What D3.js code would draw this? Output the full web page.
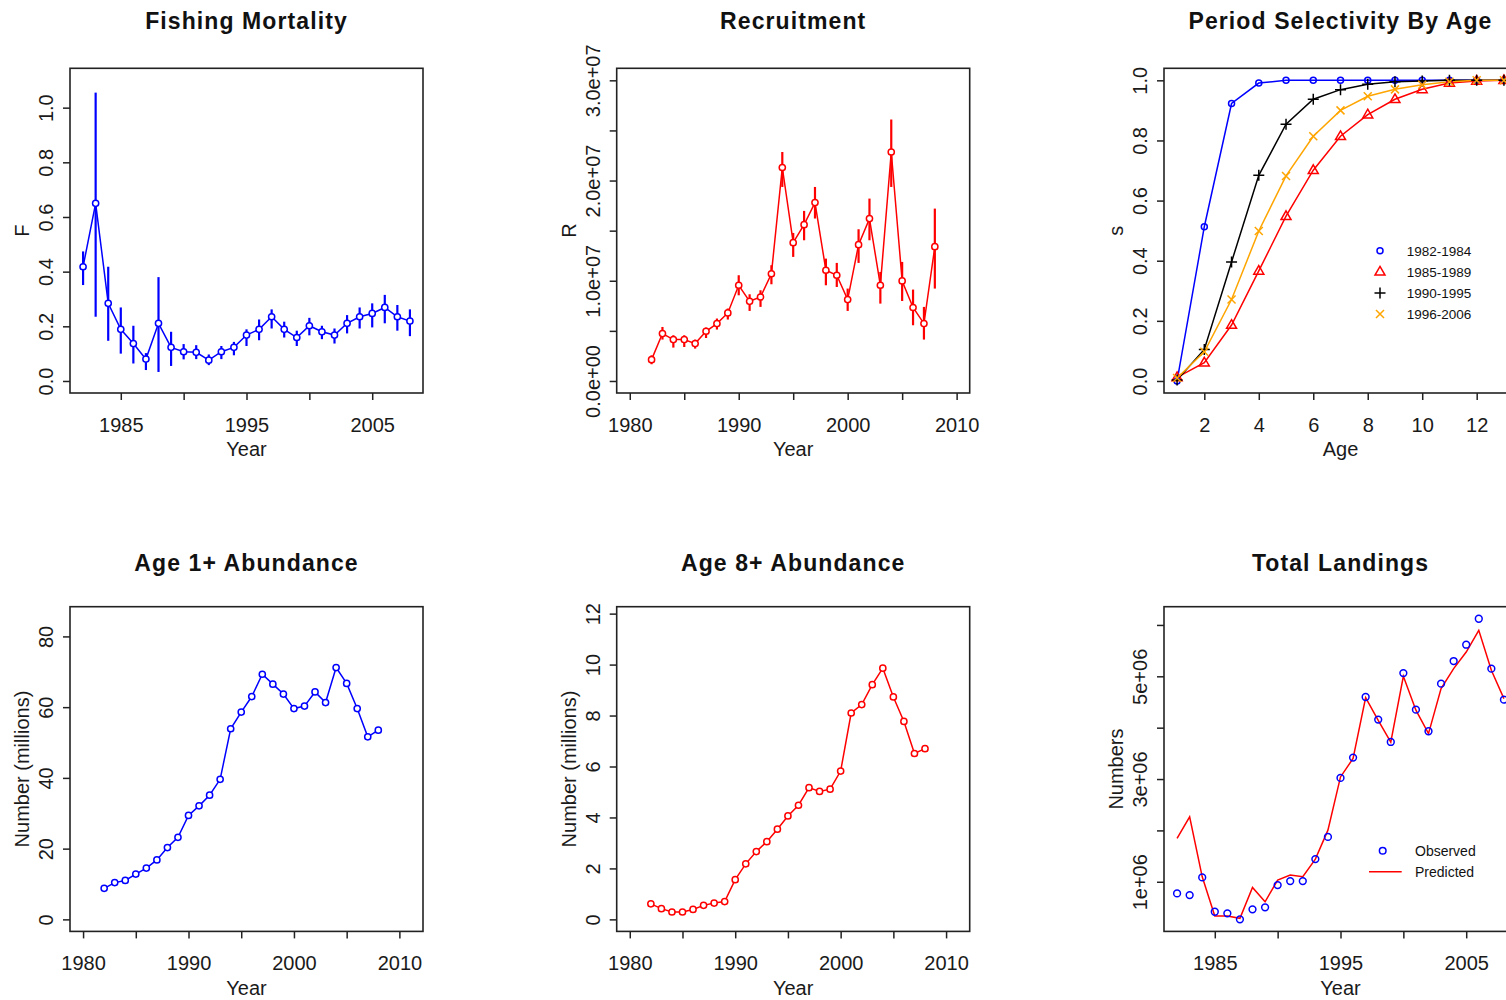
<!DOCTYPE html>
<html>
<head>
<meta charset="utf-8">
<script src="https://cdn.jsdelivr.net/npm/d3@7"></script>
<style>
  html, body { margin: 0; padding: 0; background: #fff; overflow: hidden; }
  svg { display: block; }
  text { font-family: "Liberation Sans", Arial, sans-serif; fill: #1a1a1a; }
</style>
</head>
<body>
<script>
// ---- Data ----
const years = [1982, 1983, 1984, 1985, 1986, 1987, 1988, 1989, 1990, 1991, 1992, 1993, 1994,
               1995, 1996, 1997, 1998, 1999, 2000, 2001, 2002, 2003, 2004, 2005, 2006, 2007, 2008];

// Fishing mortality with interval bounds
const fMort = [0.418, 0.650, 0.284, 0.189, 0.137, 0.080, 0.211, 0.123, 0.107, 0.105, 0.076, 0.107, 0.123,
               0.168, 0.189, 0.235, 0.189, 0.159, 0.202, 0.180, 0.168, 0.211, 0.235, 0.247, 0.269, 0.235, 0.219];
const fLow  = [0.351, 0.235, 0.147, 0.100, 0.064, 0.040, 0.033, 0.055, 0.079, 0.080, 0.058, 0.080, 0.094,
               0.128, 0.149, 0.192, 0.159, 0.128, 0.167, 0.153, 0.137, 0.174, 0.192, 0.196, 0.211, 0.184, 0.164];
const fHigh = [0.474, 1.055, 0.418, 0.269, 0.202, 0.102, 0.380, 0.180, 0.135, 0.131, 0.097, 0.128, 0.143,
               0.189, 0.225, 0.262, 0.217, 0.184, 0.231, 0.202, 0.192, 0.241, 0.269, 0.284, 0.315, 0.278, 0.262];

// Recruitment (numbers) with interval bounds
const recruit     = [2.13e6, 4.73e6, 4.13e6, 4.13e6, 3.73e6, 4.96e6, 5.73e6, 6.79e6, 9.55e6, 7.95e6, 8.38e6, 10.7e6, 21.3e6,
                     13.8e6, 15.6e6, 17.8e6, 11.05e6, 10.55e6, 8.12e6, 13.6e6, 16.2e6, 9.55e6, 22.85e6, 9.98e6, 7.33e6, 5.73e6, 13.4e6];
const recruitLow  = [1.67e6, 4.13e6, 3.33e6, 3.39e6, 3.23e6, 4.29e6, 5.13e6, 6.13e6, 8.55e6, 6.99e6, 7.39e6, 9.65e6, 19.36e6,
                     12.38e6, 14.04e6, 16.21e6, 9.55e6, 9.38e6, 6.99e6, 11.78e6, 14.04e6, 7.72e6, 19.36e6, 7.98e6, 5.56e6, 4.13e6, 9.22e6];
const recruitHigh = [2.56e6, 5.39e6, 4.56e6, 4.56e6, 4.13e6, 5.33e6, 6.23e6, 7.23e6, 10.55e6, 8.65e6, 9.05e6, 11.55e6, 22.85e6,
                     14.77e6, 16.97e6, 19.36e6, 12.21e6, 11.78e6, 9.22e6, 15.14e6, 18.2e6, 10.88e6, 26.09e6, 11.88e6, 9.12e6, 7.39e6, 17.2e6];

// Selectivity by age for each period
const ages = [1, 2, 3, 4, 5, 6, 7, 8, 9, 10, 11, 12, 13];
const periods = ["1982-1984", "1985-1989", "1990-1995", "1996-2006"];
const sel8284 = [0.000, 0.513, 0.923, 0.991, 1.000, 1.000, 1.000, 1.000, 1.000, 1.000, 1.000, 1.000, 1.000];
const sel8589 = [0.012, 0.061, 0.186, 0.366, 0.548, 0.701, 0.814, 0.886, 0.937, 0.970, 0.991, 0.998, 1.000];
const sel9095 = [0.003, 0.105, 0.396, 0.684, 0.854, 0.937, 0.969, 0.987, 0.995, 0.998, 1.000, 1.000, 1.000];
const sel9606 = [0.010, 0.097, 0.271, 0.499, 0.682, 0.814, 0.900, 0.947, 0.970, 0.985, 0.995, 1.000, 1.000];

// Abundance (millions)
const abund1 = [8.77, 10.4, 11.0, 12.8, 14.5, 16.8, 20.3, 23.2, 29.4, 32.1, 35.1, 39.6, 53.9,
                58.6, 63.0, 69.3, 66.5, 63.7, 59.6, 60.3, 64.3, 61.3, 71.2, 66.7, 59.6, 51.6, 53.5];
const abund8 = [0.61, 0.42, 0.29, 0.29, 0.39, 0.55, 0.64, 0.70, 1.56, 2.18, 2.66, 3.05, 3.54,
                4.06, 4.48, 5.17, 5.02, 5.11, 5.82, 8.10, 8.43, 9.21, 9.86, 8.73, 7.77, 6.51, 6.70];

// Total landings (numbers)
const landObs  = [0.774e6, 0.741e6, 1.085e6, 0.416e6, 0.385e6, 0.268e6, 0.463e6, 0.502e6, 0.935e6, 1.013e6, 1.013e6, 1.441e6, 1.874e6,
                  3.022e6, 3.418e6, 4.597e6, 4.157e6, 3.722e6, 5.063e6, 4.351e6, 3.930e6, 4.857e6, 5.297e6, 5.615e6, 6.121e6, 5.149e6, 4.546e6];
const landPred = [1.843e6, 2.263e6, 1.097e6, 0.332e6, 0.332e6, 0.288e6, 0.890e6, 0.610e6, 1.032e6, 1.130e6, 1.097e6, 1.440e6, 2.005e6,
                  3.041e6, 3.400e6, 4.585e6, 4.140e6, 3.720e6, 4.999e6, 4.340e6, 3.885e6, 4.760e6, 5.149e6, 5.472e6, 5.894e6, 5.116e6, 4.565e6];

// Axis ticks and which of them carry a label
const yearTicks5      = [1985, 1990, 1995, 2000, 2005];
const yearLabels5     = [1985, 1995, 2005];
const yearTicksWide   = [1980, 1985, 1990, 1995, 2000, 2005, 2010];
const yearLabelsWide  = [1980, 1990, 2000, 2010];
const unitTicks       = [0, 0.2, 0.4, 0.6, 0.8, 1.0];
const recruitTicks    = [0, 5e6, 1e7, 1.5e7, 2e7, 2.5e7, 3e7];
const recruitLabels   = [0, 1e7, 2e7, 3e7];
const ageTicks        = [2, 4, 6, 8, 10, 12];
const abund1Ticks     = [0, 20, 40, 60, 80];
const abund8Ticks     = [0, 2, 4, 6, 8, 10, 12];
const landTicks       = [1e6, 2e6, 3e6, 4e6, 5e6, 6e6];
const landLabels      = [1e6, 3e6, 5e6];

// ---- Layout ----
const W = 1506, H = 1000;
const COLS = [70, 616.7, 1164];
const ROWS = [68.3, 606.7];
const PW = 353, PH = 324.7;
const BLUE = "#0000ff", RED = "#ff0000", ORANGE = "#ffa500", BLACK = "#000000";

const svg = d3.select("body").append("svg").attr("width", W).attr("height", H);

function padded(lo, hi) { const p = (hi - lo) * 0.04; return [lo - p, hi + p]; }

function sci(d, digits) {
  if (d === 0) return (0).toFixed(digits) + "e+00";
  const e = Math.floor(Math.log10(Math.abs(d)));
  const m = d / Math.pow(10, e);
  return m.toFixed(digits) + "e" + (e < 0 ? "-" : "+") + String(Math.abs(e)).padStart(2, "0");
}

function panel(o) {
  const g = svg.append("g").attr("transform", `translate(${o.left},${o.top})`);
  const x = d3.scaleLinear().domain(padded(o.xlim[0], o.xlim[1])).range([0, PW]);
  const y = d3.scaleLinear().domain(padded(o.ylim[0], o.ylim[1])).range([PH, 0]);

  const xa = g.append("g").attr("transform", `translate(0,${PH})`)
    .call(d3.axisBottom(x).tickValues(o.xTicks).tickSize(7)
      .tickFormat(d => o.xLabels.includes(d) ? o.xFmt(d) : ""));
  xa.attr("font-size", null).attr("font-family", null);
  xa.select(".domain").remove();
  xa.selectAll("line").attr("stroke", "#222").attr("stroke-width", 1.5);
  xa.selectAll("text").attr("y", 39).attr("dy", null)
    .style("font-size", "20px").style("fill", "#1a1a1a");

  const ya = g.append("g")
    .call(d3.axisLeft(y).tickValues(o.yTicks).tickSize(7)
      .tickFormat(d => o.yLabels.includes(d) ? o.yFmt(d) : ""));
  ya.attr("font-size", null).attr("font-family", null);
  ya.select(".domain").remove();
  ya.selectAll("line").attr("stroke", "#222").attr("stroke-width", 1.5);
  ya.selectAll("text").attr("x", null).attr("dy", null)
    .attr("transform", "translate(-17,0) rotate(-90)")
    .attr("text-anchor", "middle")
    .style("font-size", "20px").style("fill", "#1a1a1a");

  g.append("rect").attr("width", PW).attr("height", PH)
    .attr("fill", "none").attr("stroke", "#222").attr("stroke-width", 1.6);

  g.append("text").attr("x", PW / 2).attr("y", o.titleY).attr("text-anchor", "middle")
    .style("font-size", "23px").style("font-weight", "bold").style("letter-spacing", "1.1px")
    .style("fill", "#111").text(o.title);
  g.append("text").attr("x", PW / 2).attr("y", PH + 63.5).attr("text-anchor", "middle")
    .style("font-size", "20px").text(o.xTitle);
  g.append("text").attr("transform", `translate(-41,${PH / 2}) rotate(-90)`).attr("text-anchor", "middle")
    .style("font-size", "20px").text(o.yTitle);

  return { g, x, y };
}

function drawSeries(p, xs, ys, color, opts = {}) {
  const pts = xs.map((d, i) => [d, ys[i]]);
  if (opts.low) {
    p.g.append("g").selectAll("line").data(xs).join("line")
      .attr("x1", d => p.x(d)).attr("x2", d => p.x(d))
      .attr("y1", (d, i) => p.y(opts.low[i])).attr("y2", (d, i) => p.y(opts.high[i]))
      .attr("stroke", color).attr("stroke-width", 2.2);
  }
  if (opts.line !== false) {
    p.g.append("path").datum(pts)
      .attr("d", d3.line().x(d => p.x(d[0])).y(d => p.y(d[1])))
      .attr("fill", "none").attr("stroke", color).attr("stroke-width", 1.5);
  }
  if (opts.points !== false) {
    p.g.append("g").selectAll("circle").data(pts).join("circle")
      .attr("cx", d => p.x(d[0])).attr("cy", d => p.y(d[1])).attr("r", 3.1)
      .attr("fill", "#fff").attr("stroke", color).attr("stroke-width", 1.5);
  }
}

// Outline marker paths (triangle, plus, cross)
function markerPath(kind, s) {
  if (kind === "triangle") {
    const h = s * 0.866;
    return `M0,${-h * 0.62}L${s / 2},${h * 0.38}L${-s / 2},${h * 0.38}Z`;
  }
  if (kind === "plus") return `M${-s / 2},0H${s / 2}M0,${-s / 2}V${s / 2}`;
  if (kind === "times") { const r = s / 2; return `M${-r},${-r}L${r},${r}M${-r},${r}L${r},${-r}`; }
  return d3.symbol(d3.symbolCircle, s * s * 0.5)();
}

function drawMarkers(p, xs, ys, color, kind, size) {
  const pts = xs.map((d, i) => [d, ys[i]]);
  p.g.append("g").selectAll("g").data(pts).join("g")
    .attr("transform", d => `translate(${p.x(d[0])},${p.y(d[1])})`)
    .append(kind === "circle" ? "circle" : "path")
    .each(function () {
      const el = d3.select(this);
      if (kind === "circle") el.attr("r", size);
      else el.attr("d", markerPath(kind, size));
    })
    .attr("fill", "none").attr("stroke", color).attr("stroke-width", 1.5);
}

const fmtYear = d => String(d);
const fmt1 = d3.format(".1f");
const fmtInt = d3.format("d");
const TITLE_TOP = -39, TITLE_BOTTOM = -36;

// ---- Fishing Mortality ----
const p1 = panel({
  left: COLS[0], top: ROWS[0], titleY: TITLE_TOP, title: "Fishing Mortality", xTitle: "Year", yTitle: "F",
  xlim: [1982, 2008], ylim: [0, 1.1],
  xTicks: yearTicks5, xLabels: yearLabels5, xFmt: fmtYear,
  yTicks: unitTicks, yLabels: unitTicks, yFmt: fmt1
});
drawSeries(p1, years, fMort, BLUE, { low: fLow, high: fHigh });

// ---- Recruitment ----
const p2 = panel({
  left: COLS[1], top: ROWS[0], titleY: TITLE_TOP, title: "Recruitment", xTitle: "Year", yTitle: "R",
  xlim: [1980, 2010], ylim: [0, 3e7],
  xTicks: yearTicksWide, xLabels: yearLabelsWide, xFmt: fmtYear,
  yTicks: recruitTicks, yLabels: recruitLabels, yFmt: d => sci(d, 1)
});
drawSeries(p2, years, recruit, RED, { low: recruitLow, high: recruitHigh });

// ---- Period Selectivity By Age ----
const p3 = panel({
  left: COLS[2], top: ROWS[0], titleY: TITLE_TOP, title: "Period Selectivity By Age", xTitle: "Age", yTitle: "s",
  xlim: [1, 13], ylim: [0, 1],
  xTicks: ageTicks, xLabels: ageTicks, xFmt: fmtInt,
  yTicks: unitTicks, yLabels: unitTicks, yFmt: fmt1
});
const selSeries = [
  { vals: sel8284, color: BLUE,   kind: "circle",   size: 3 },
  { vals: sel8589, color: RED,    kind: "triangle", size: 10 },
  { vals: sel9095, color: BLACK,  kind: "plus",     size: 11 },
  { vals: sel9606, color: ORANGE, kind: "times",    size: 8 }
];
selSeries.forEach(s => drawSeries(p3, ages, s.vals, s.color, { points: false }));
selSeries.forEach(s => drawMarkers(p3, ages, s.vals, s.color, s.kind, s.size));

// legend
const lg3 = p3.g.append("g").attr("transform", "translate(216,182.4)");
periods.forEach((name, i) => {
  const s = selSeries[i];
  const row = lg3.append("g").attr("transform", `translate(0,${i * 21.1})`);
  if (s.kind === "circle") row.append("circle").attr("r", 3);
  else row.append("path").attr("d", markerPath(s.kind, s.size));
  row.select(":first-child").attr("fill", "none").attr("stroke", s.color).attr("stroke-width", 1.5);
  row.append("text").attr("x", 26.7).attr("dy", "0.36em")
    .style("font-size", "13.5px").style("fill", "#111").text(name);
});

// ---- Age 1+ Abundance ----
const p4 = panel({
  left: COLS[0], top: ROWS[1], titleY: TITLE_BOTTOM, title: "Age 1+ Abundance", xTitle: "Year", yTitle: "Number (millions)",
  xlim: [1980, 2011], ylim: [0, 85],
  xTicks: yearTicksWide, xLabels: yearLabelsWide, xFmt: fmtYear,
  yTicks: abund1Ticks, yLabels: abund1Ticks, yFmt: fmtInt
});
drawSeries(p4, years, abund1, BLUE);

// ---- Age 8+ Abundance ----
const p5 = panel({
  left: COLS[1], top: ROWS[1], titleY: TITLE_BOTTOM, title: "Age 8+ Abundance", xTitle: "Year", yTitle: "Number (millions)",
  xlim: [1980, 2011], ylim: [0, 11.8],
  xTicks: yearTicksWide, xLabels: yearLabelsWide, xFmt: fmtYear,
  yTicks: abund8Ticks, yLabels: abund8Ticks, yFmt: fmtInt
});
drawSeries(p5, years, abund8, RED);

// ---- Total Landings ----
const landAll = landObs.concat(landPred);
const p6 = panel({
  left: COLS[2], top: ROWS[1], titleY: TITLE_BOTTOM, title: "Total Landings", xTitle: "Year", yTitle: "Numbers",
  xlim: [1982, 2008], ylim: [d3.min(landAll), d3.max(landAll)],
  xTicks: yearTicks5, xLabels: yearLabels5, xFmt: fmtYear,
  yTicks: landTicks, yLabels: landLabels, yFmt: d => sci(d, 0)
});
drawSeries(p6, years, landPred, RED, { points: false });
drawSeries(p6, years, landObs, BLUE, { line: false });
p6.g.selectAll("circle").attr("fill", "none").attr("r", 3.4);

// legend
const lg6 = p6.g.append("g").attr("transform", "translate(205,244)");
lg6.append("circle").attr("cx", 13.7).attr("cy", 0).attr("r", 3.3)
  .attr("fill", "none").attr("stroke", BLUE).attr("stroke-width", 1.5);
lg6.append("line").attr("x1", 0).attr("x2", 32.7).attr("y1", 21).attr("y2", 21)
  .attr("stroke", RED).attr("stroke-width", 1.6);
lg6.append("text").attr("x", 46).attr("y", 0).attr("dy", "0.36em")
  .style("font-size", "14px").style("fill", "#111").text("Observed");
lg6.append("text").attr("x", 46).attr("y", 21).attr("dy", "0.36em")
  .style("font-size", "14px").style("fill", "#111").text("Predicted");
</script>
</body>
</html>
